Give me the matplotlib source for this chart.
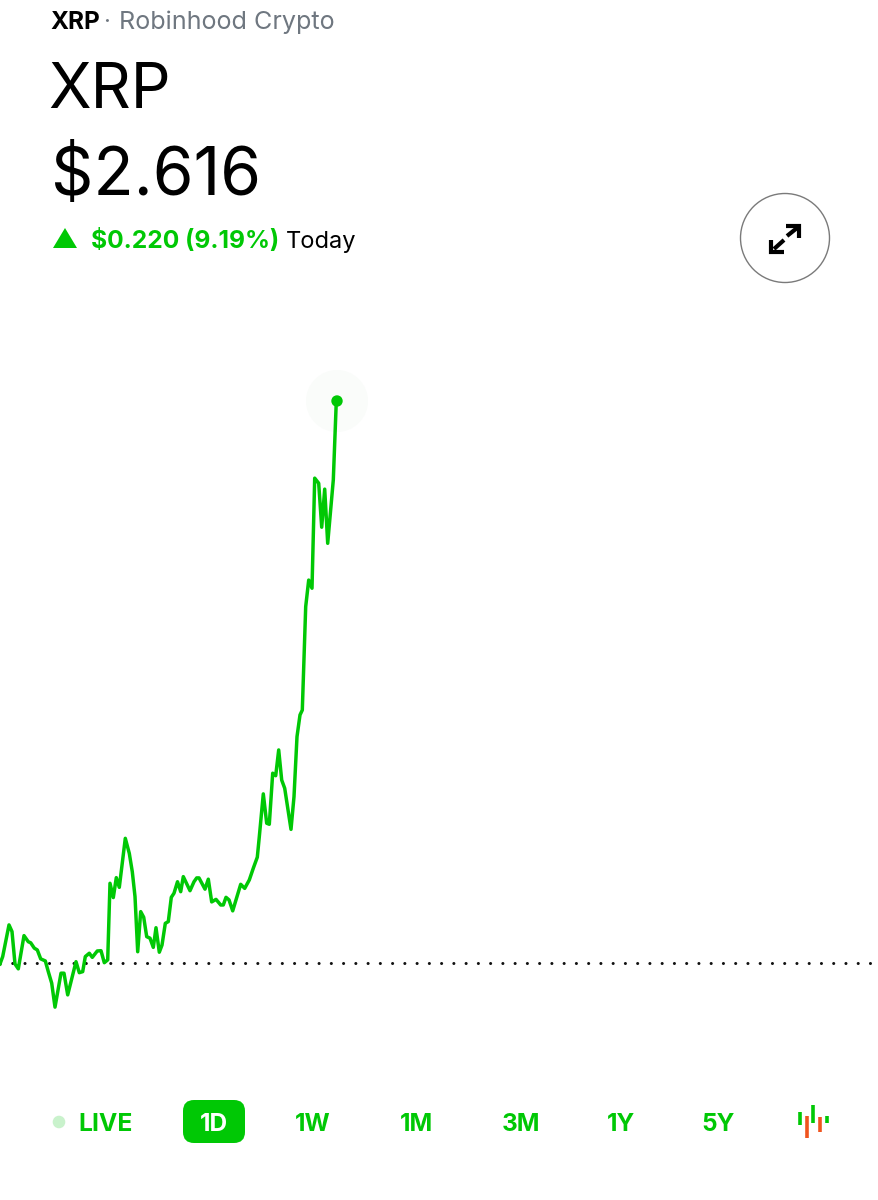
import matplotlib
matplotlib.use("Agg")
import matplotlib.pyplot as plt
from matplotlib.patches import Circle, FancyBboxPatch, Polygon

plt.rcParams['font.family'] = ['Inter', 'DejaVu Sans']

# ---- data ----
previous_close = 2.396
# position along the session axis (0..879 = whole trading day width)
session_pos = [0, 2.7, 9, 12, 15, 18.3, 24, 28.3, 30.7, 34.3, 37.3, 40.7, 45.3, 48.3, 51.7, 55,
               61, 64, 67.7, 76, 79.3, 82.7, 85.3, 89.3, 92.3, 97.3, 101, 104.3, 107.7, 110,
               113.3, 116.3, 119.3, 125.3, 129.3, 132.3, 135, 137.7, 140.7, 143.7, 146.7, 150,
               153.3, 156, 159.3, 162, 165.3, 168.3, 171.3, 174, 177.5,
               180.7, 183.3, 190, 194, 196.7, 199, 205, 208.3, 211.7, 216, 220.7, 223.3, 226,
               229, 232.7, 240.7, 244.7, 249.3, 253.3, 257.3, 259.3, 263.3, 266.7, 269.3, 272.7,
               275.7, 278.7, 281.7, 284.7, 291, 294, 297, 300, 302.3,
               305.7, 308.7, 312, 314.7, 318.7, 321.7, 324.7, 327.7, 333.3, 336.3]
# change from previous close, in thousandths of a dollar
change_mils = [-0.4, 2.5, 14.9, 12.3, -0.4, -2.3, 10.7, 8.3, 7.9, 5.8, 5.1, 1.6, 0.8, -3.4, -7.9, -17.3,
               -4.0, -4.0, -12.5, 0.5, -3.8, -3.4, 2.5, 3.8, 2.2, 4.7, 4.8, 0.1, 1.2, 31.2,
               25.6, 33.4, 29.6, 48.8, 42.9, 35.7, 26.0, 4.4, 20.1, 17.9, 10.3, 9.7,
               6.1, 13.8, 4.2, 7.0, 15.5, 16.2, 25.7, 27.3, 31.8,
               27.9, 33.8, 28.3, 31.8, 33.3, 33.3, 28.9, 32.8, 23.9, 24.9, 22.7, 22.7, 25.7,
               24.7, 20.4, 30.8, 29.2, 32.5, 37.1, 41.4, 49.4, 66.2, 54.7, 54.3, 74.3,
               73.3, 83.4, 71.6, 68.4, 52.3, 65.1, 88.6, 97.1, 99.0,
               139.5, 149.9, 146.7, 189.8, 187.8, 170.6, 185.5, 164.3, 189.1, 220.0]
ranges = ["1W", "1M", "3M", "1Y", "5Y"]
range_centers = [313, 417, 521, 621, 718]

GREEN = "#00C805"
ORANGE = "#F0541E"

prices = [previous_close + c / 1000 for c in change_mils]

fig = plt.figure(figsize=(8.79, 12), dpi=100, facecolor="white")

# bottom layer in pixel coordinates: halo behind the line
back = fig.add_axes([0, 0, 1, 1])
back.set_xlim(0, 879)
back.set_ylim(1200, 0)
back.axis("off")
back.set_zorder(1)
back.add_patch(Circle((337, 401), 31, fc="#FAFCFA", ec="none"))

# chart axes: full figure, price scale
ax = fig.add_axes([0, 0, 1, 1])
ax.set_xlim(0, 879)
ax.set_ylim(2.3032, 2.7730)
ax.axis("off")
ax.patch.set_alpha(0)
ax.set_zorder(2)
ax.plot(session_pos, prices, color=GREEN, lw=2.5, solid_joinstyle="round", zorder=3)
ax.axhline(previous_close, color="#111111", lw=2.2, linestyle=(0, (0.01, 4.0)),
           dash_capstyle="round", zorder=2)

# interface overlay in pixel coordinates
ui = fig.add_axes([0, 0, 1, 1])
ui.set_xlim(0, 879)
ui.set_ylim(1200, 0)
ui.axis("off")
ui.patch.set_alpha(0)
ui.set_zorder(3)
ui.add_patch(Circle((337, 401), 5.7, fc=GREEN, ec="none", zorder=5))

# header
ui.text(50, 29, "XRP", fontsize=17.6, fontweight="bold", color="#000000", va="baseline")
ui.text(103, 29, "·", fontsize=17, color="#6F7780", va="baseline")
ui.text(119, 29, "Robinhood Crypto", fontsize=18.1, color="#6F7780", va="baseline")
ui.text(48, 108, "XRP", fontsize=45, color="#000000", va="baseline")
ui.text(51, 195, "$2.616", fontsize=47.5, color="#000000", va="baseline")
ui.add_patch(Polygon([(53, 248), (77, 248), (65, 228)], closed=True, fc=GREEN, ec="none"))
ui.text(91, 248, "$0.220 (9.19%)", fontsize=17.7, fontweight="bold", color=GREEN, va="baseline")
ui.text(286, 248, "Today", fontsize=17, color="#000000", va="baseline")

# expand button
ui.add_patch(Circle((785, 238), 44.5, fc="white", ec="#7A7A7A", lw=1.0))
ui.plot([786, 799.5, 799.5], [225.5, 225.5, 238], color="black", lw=3, solid_joinstyle="miter", solid_capstyle="butt")
ui.plot([797, 787], [228, 236], color="black", lw=3, solid_capstyle="butt")
ui.plot([771.5, 771.5, 784], [240, 251.5, 251.5], color="black", lw=3, solid_joinstyle="miter", solid_capstyle="butt")
ui.plot([774, 784], [249, 240], color="black", lw=3, solid_capstyle="butt")

# range selector
ui.add_patch(Circle((59, 1122), 6.3, fc="#C9F2CC", ec="none"))
ui.text(78, 1131, "LIVE", fontsize=17.8, fontweight="bold", color=GREEN, va="baseline")
ui.add_patch(FancyBboxPatch((193, 1110), 42, 23, boxstyle="round,pad=10,rounding_size=11",
                            fc=GREEN, ec="none"))
ui.text(214, 1131, "1D", fontsize=17.5, fontweight="bold", color="white", va="baseline", ha="center")
for label, cx in zip(ranges, range_centers):
    ui.text(cx, 1131, label, fontsize=17.5, fontweight="bold", color=GREEN, va="baseline", ha="center")

# candle icon
for xc, y0, y1, col in [(800, 1112, 1125, GREEN), (807, 1116, 1138, ORANGE), (813, 1105, 1123, GREEN),
                        (820, 1117, 1132, ORANGE), (827, 1116, 1123, GREEN)]:
    ui.plot([xc, xc], [y0, y1], color=col, lw=2.6, solid_capstyle="butt")

fig.savefig("out.png", dpi=100, facecolor="white")
